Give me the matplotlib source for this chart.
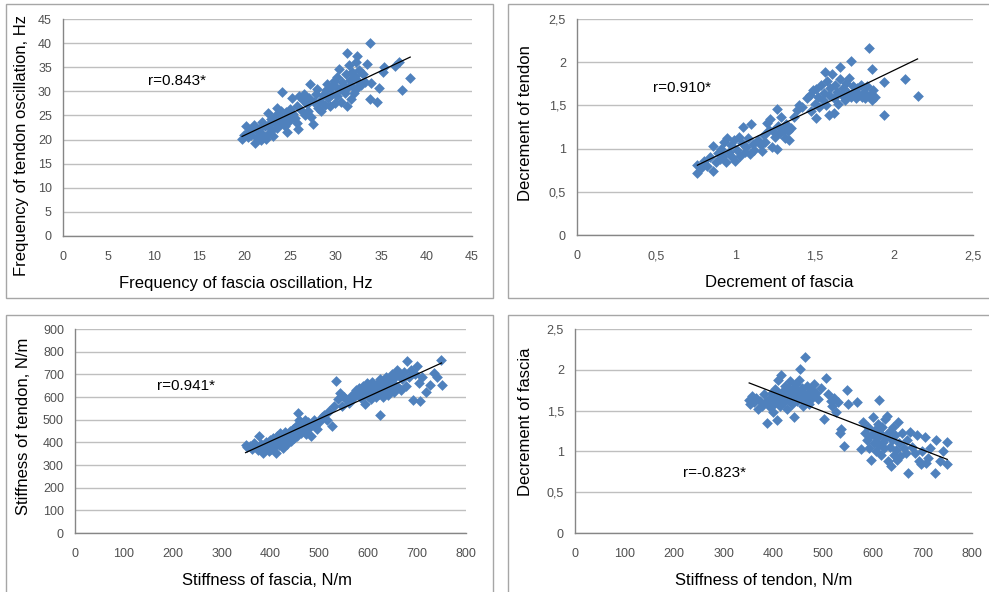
import numpy as np
import matplotlib
matplotlib.use('Agg')
import matplotlib.pyplot as plt
from matplotlib.patches import Rectangle
from matplotlib.ticker import FuncFormatter

plt.rcParams['font.family'] = ['Liberation Sans', 'DejaVu Sans']

# panel 1: frequency of fascia vs tendon oscillation, Hz
freq_pts = [
    (19.7, 20.2), (19.9, 21.0), (20.1, 22.8), (20.3, 20.6), (20.5, 21.8), (20.7, 20.9), (20.9, 22.4), (21.0, 23.0), (21.1, 19.3), (21.3, 20.4),
    (21.4, 21.5), (21.6, 22.2), (21.8, 19.9), (21.9, 23.6), (22.0, 21.0), (22.2, 22.8), (22.3, 20.2), (22.5, 25.5), (22.6, 23.0), (22.7, 21.4),
    (22.9, 24.2), (23.0, 22.0), (23.1, 20.8), (23.3, 23.5), (23.4, 25.0), (23.5, 26.5), (23.6, 22.4), (23.8, 24.6), (23.9, 23.2), (24.0, 26.0),
    (24.1, 29.9), (24.2, 24.0), (24.4, 22.8), (24.5, 25.8), (24.6, 21.6), (24.7, 24.8), (24.9, 23.9), (25.0, 26.4), (25.2, 28.7), (25.3, 25.2),
    (25.5, 24.4), (25.7, 27.0), (25.8, 23.5), (25.9, 22.2), (26.0, 29.0), (26.2, 26.2), (26.4, 28.2), (26.5, 29.5), (26.6, 25.0), (26.8, 27.4),
    (27.0, 26.0), (27.1, 28.6), (27.2, 31.5), (27.3, 24.6), (27.5, 23.3), (27.6, 27.8), (27.8, 29.5), (28.0, 30.5), (28.1, 26.5), (28.3, 28.0),
    (28.4, 25.9), (28.6, 29.2), (28.8, 27.2), (28.9, 30.2), (29.1, 31.6), (29.2, 28.6), (29.4, 26.9), (29.5, 30.8), (29.6, 29.4), (29.8, 32.2),
    (29.9, 27.6), (30.0, 31.0), (30.1, 33.0), (30.2, 29.0), (30.4, 34.6), (30.5, 30.4), (30.6, 27.8), (30.7, 32.0), (30.9, 31.2), (31.0, 29.6),
    (31.1, 33.6), (31.2, 27.0), (31.3, 38.0), (31.4, 30.8), (31.5, 35.4), (31.6, 32.4), (31.7, 28.4), (31.8, 34.0), (31.9, 31.0), (32.0, 29.6),
    (32.1, 33.2), (32.2, 36.0), (32.3, 37.3), (32.4, 30.6), (32.5, 32.2), (32.6, 34.4), (32.8, 31.4), (33.0, 33.6), (33.2, 32.0), (33.5, 35.6),
    (33.8, 40.0), (33.8, 28.5), (33.9, 31.8), (34.6, 27.7), (34.8, 30.6), (35.2, 34.0), (35.3, 35.0), (36.5, 35.3), (37.0, 36.0), (37.3, 30.3),
    (38.2, 32.8),
]

# panel 2: decrement of fascia vs tendon
decr_pts = [
    (0.76, 0.81), (0.76, 0.72), (0.78, 0.78), (0.80, 0.86), (0.82, 0.80), (0.84, 0.90), (0.86, 1.03), (0.86, 0.74), (0.88, 0.84), (0.89, 0.95),
    (0.90, 0.88), (0.91, 1.00), (0.92, 0.92), (0.93, 1.08), (0.94, 0.84), (0.95, 1.12), (0.96, 0.96), (0.97, 1.04), (0.98, 0.90), (0.99, 1.10),
    (1.00, 0.86), (1.01, 0.98), (1.02, 1.14), (1.03, 0.92), (1.04, 1.06), (1.05, 1.25), (1.06, 0.96), (1.07, 1.02), (1.08, 1.12), (1.09, 0.94),
    (1.10, 1.29), (1.11, 1.05), (1.12, 0.98), (1.14, 1.10), (1.16, 1.04), (1.17, 0.97), (1.18, 1.16), (1.19, 1.08), (1.20, 1.30), (1.21, 1.22),
    (1.22, 1.34), (1.23, 1.02), (1.24, 1.20), (1.25, 1.14), (1.26, 1.46), (1.26, 1.00), (1.27, 1.26), (1.28, 1.18), (1.29, 1.36), (1.30, 1.22),
    (1.31, 1.12), (1.32, 1.28), (1.33, 1.20), (1.34, 1.10), (1.35, 1.24), (1.37, 1.36), (1.39, 1.45), (1.40, 1.50), (1.42, 1.48), (1.45, 1.58),
    (1.47, 1.62), (1.48, 1.44), (1.49, 1.68), (1.50, 1.52), (1.51, 1.69), (1.51, 1.35), (1.52, 1.60), (1.53, 1.48), (1.54, 1.74), (1.55, 1.56),
    (1.56, 1.64), (1.565, 1.89), (1.57, 1.50), (1.58, 1.78), (1.59, 1.39), (1.59, 1.62), (1.60, 1.70), (1.61, 1.86), (1.62, 1.41), (1.62, 1.58),
    (1.63, 1.74), (1.64, 1.66), (1.65, 1.52), (1.66, 1.95), (1.66, 1.80), (1.67, 1.62), (1.68, 1.70), (1.69, 1.56), (1.70, 1.76), (1.71, 1.64),
    (1.72, 1.82), (1.73, 2.01), (1.73, 1.60), (1.74, 1.72), (1.75, 1.66), (1.76, 1.58), (1.77, 1.70), (1.78, 1.62), (1.79, 1.74), (1.80, 1.60),
    (1.81, 1.66), (1.82, 1.58), (1.83, 1.72), (1.845, 2.17), (1.85, 1.62), (1.86, 1.56), (1.865, 1.92), (1.87, 1.68), (1.88, 1.60), (1.94, 1.77),
    (1.94, 1.39), (2.07, 1.81), (2.15, 1.61),
]

# panel 3: stiffness of fascia vs tendon, N/m
stiff_pts = [
    (349, 390), (352, 378), (358, 385), (362, 372), (366, 398), (370, 380), (374, 366), (377, 426), (380, 392), (383, 370),
    (385, 353), (388, 384), (390, 400), (393, 376), (396, 362), (398, 410), (400, 388), (402, 372), (405, 420), (407, 398),
    (409, 382), (411, 353), (413, 430), (415, 404), (417, 390), (420, 440), (422, 412), (424, 396), (426, 376), (428, 428),
    (430, 446), (432, 410), (434, 392), (436, 436), (438, 420), (440, 450), (442, 404), (444, 432), (446, 458), (448, 418),
    (450, 442), (452, 470), (454, 426), (456, 448), (457, 529), (458, 500), (460, 482), (462, 440), (465, 470), (468, 456),
    (470, 500), (473, 436), (476, 490), (478, 462), (482, 428), (485, 480), (488, 498), (492, 470), (496, 460), (500, 490),
    (505, 510), (510, 520), (515, 498), (520, 540), (525, 471), (530, 560), (535, 672), (538, 590), (543, 618), (546, 560),
    (550, 600), (555, 590), (560, 575), (562, 588), (566, 610), (570, 600), (574, 630), (578, 612), (582, 640), (585, 596),
    (588, 620), (590, 650), (594, 570), (596, 632), (598, 660), (600, 604), (602, 640), (605, 590), (607, 668), (610, 620),
    (612, 648), (615, 600), (618, 636), (620, 660), (622, 612), (624, 522), (625, 680), (627, 640), (630, 600), (632, 664),
    (634, 622), (636, 690), (638, 650), (640, 610), (642, 676), (645, 640), (648, 700), (650, 660), (652, 620), (655, 690),
    (658, 720), (660, 645), (663, 700), (666, 630), (670, 680), (674, 710), (677, 650), (680, 757), (684, 690), (688, 720),
    (692, 588), (695, 700), (700, 735), (703, 660), (705, 581), (710, 690), (718, 620), (727, 654), (735, 706), (740, 690),
    (748, 765), (750, 654),
]

# panel 4: stiffness of tendon vs decrement of fascia
mixed_pts = [
    (351, 1.63), (353, 1.58), (356, 1.68), (360, 1.60), (364, 1.66), (368, 1.52), (372, 1.62), (376, 1.56), (380, 1.70), (384, 1.60),
    (387, 1.35), (390, 1.64), (393, 1.54), (396, 1.72), (398, 1.48), (400, 1.66), (402, 1.58), (404, 1.76), (406, 1.62), (408, 1.38),
    (410, 1.88), (412, 1.70), (414, 1.56), (415, 1.94), (417, 1.66), (420, 1.74), (422, 1.60), (424, 1.80), (426, 1.68), (428, 1.52),
    (430, 1.76), (432, 1.64), (434, 1.86), (436, 1.70), (438, 1.58), (440, 1.78), (442, 1.42), (444, 1.68), (446, 1.82), (448, 1.62),
    (450, 1.74), (452, 1.88), (454, 2.01), (456, 1.66), (458, 1.78), (460, 1.56), (462, 1.72), (464, 2.16), (466, 1.64), (468, 1.80),
    (470, 1.70), (472, 1.58), (475, 1.76), (478, 1.66), (482, 1.82), (486, 1.72), (490, 1.64), (495, 1.78), (502, 1.40), (506, 1.90),
    (510, 1.70), (515, 1.62), (518, 1.56), (522, 1.66), (526, 1.48), (530, 1.60), (533, 1.23), (536, 1.28), (543, 1.07), (548, 1.75),
    (550, 1.58), (568, 1.61), (577, 1.03), (580, 1.36), (584, 1.22), (588, 1.14), (590, 1.30), (593, 1.04), (596, 1.20), (597, 0.90),
    (600, 1.42), (602, 1.10), (604, 1.26), (606, 1.00), (608, 1.16), (610, 1.34), (612, 1.08), (613, 1.63), (615, 1.22), (617, 0.96),
    (619, 1.30), (621, 1.12), (623, 1.04), (625, 1.40), (627, 1.18), (629, 1.43), (630, 0.88), (632, 1.24), (634, 1.06), (636, 0.82),
    (638, 1.14), (640, 1.30), (642, 0.96), (644, 1.20), (646, 1.02), (648, 0.90), (650, 1.36), (652, 1.10), (655, 0.94), (658, 1.22),
    (662, 1.04), (666, 0.98), (670, 1.14), (672, 0.74), (676, 1.24), (680, 1.06), (686, 0.98), (690, 1.20), (694, 0.88), (698, 0.84),
    (700, 1.00), (705, 1.18), (708, 0.86), (712, 0.92), (716, 1.04), (725, 0.73), (728, 1.14), (735, 0.88), (742, 1.00), (750, 0.84),
    (750, 1.11),
]

BLUE = '#4F81BD'
GRID = '#BFBFBF'
TICK = '#505050'

W, H = 989, 592
fig = plt.figure(figsize=(W / 100, H / 100), dpi=100)


def px_axes(l, t, r, b):
    # pixel box (from top-left) -> figure fraction
    return [l / W, (H - b) / H, (r - l) / W, (b - t) / H]


def frame(l, t, r, b):
    fig.add_artist(Rectangle((l / W, (H - b) / H), (r - l) / W, (b - t) / H,
                             transform=fig.transFigure, fill=False,
                             edgecolor='#A6A6A6', linewidth=1.0))


comma = FuncFormatter(lambda v, p: ('%g' % v).replace('.', ','))


def panel(rect, pts, xmax, xstep, ymax, ystep, xlabel, ylabel, rtext, rpos,
          use_comma=False, xlab_x=0.5, ylab_y=0.5, ypad=5):
    ax = fig.add_axes(px_axes(*rect))
    x = np.array([p[0] for p in pts])
    y = np.array([p[1] for p in pts])
    ax.scatter(x, y, marker='D', s=30, color=BLUE, linewidths=0, zorder=3)
    k, c = np.polyfit(x, y, 1)
    xs = np.array([x.min(), x.max()])
    ax.plot(xs, k * xs + c, color='black', linewidth=0.9, zorder=4)
    ax.set_xlim(0, xmax)
    ax.set_ylim(0, ymax)
    ax.set_xticks(np.arange(0, xmax + xstep / 2, xstep))
    ax.set_yticks(np.arange(0, ymax + ystep / 2, ystep))
    if use_comma:
        ax.xaxis.set_major_formatter(comma)
        ax.yaxis.set_major_formatter(comma)
    ax.grid(axis='y', color=GRID, linewidth=1.0, zorder=0)
    ax.set_axisbelow(True)
    for s in ['top', 'right']:
        ax.spines[s].set_visible(False)
    for s in ['left', 'bottom']:
        ax.spines[s].set_color('#868686')
        ax.spines[s].set_linewidth(1.0)
    ax.tick_params(length=0, labelsize=9, labelcolor=TICK)
    ax.tick_params(axis='x', pad=11)
    ax.tick_params(axis='y', pad=8)
    ax.set_xlabel(xlabel, fontsize=12, labelpad=9)
    ax.set_ylabel(ylabel, fontsize=12, labelpad=ypad)
    ax.xaxis.label.set_x(xlab_x)
    ax.yaxis.label.set_y(ylab_y)
    ax.text(rpos[0], rpos[1], rtext, fontsize=11, ha='left', va='center')
    return ax


frame(6, 4, 493, 298)
frame(508, 4, 995, 298)
frame(6, 315, 493, 597)
frame(508, 315, 995, 597)

panel((63, 19, 472, 236), freq_pts, 45, 5, 45, 5,
      'Frequency of fascia oscillation, Hz', 'Frequency of tendon oscillation, Hz',
      'r=0.843*', (9.35, 32.2), xlab_x=0.447, ylab_y=0.415, ypad=6.5)
panel((577, 19, 973, 235), decr_pts, 2.5, 0.5, 2.5, 0.5,
      'Decrement of fascia', 'Decrement of tendon',
      'r=0.910*', (0.48, 1.70), use_comma=True, xlab_x=0.51, ylab_y=0.518, ypad=11)
panel((75, 329, 466, 533), stiff_pts, 800, 100, 900, 100,
      'Stiffness of fascia, N/m', 'Stiffness of tendon, N/m',
      'r=0.941*', (168, 648), xlab_x=0.492, ylab_y=0.524, ypad=8.5)
panel((575, 329, 972, 533), mixed_pts, 800, 100, 2.5, 0.5,
      'Stiffness of tendon, N/m', 'Decrement of fascia',
      'r=-0.823*', (218, 0.735), use_comma=True, xlab_x=0.476, ylab_y=0.544, ypad=9.5)

fig.savefig('out.png', dpi=100)
